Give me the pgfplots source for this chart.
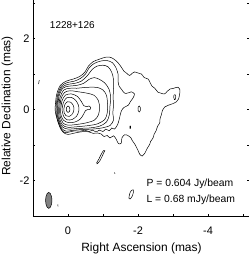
\documentclass[border=0pt]{standalone}
\usepackage{pgfplots}
\pgfplotsset{compat=1.18}
\usepackage{fontspec}
\setmainfont{Liberation Sans}
\begin{document}
\begin{tikzpicture}
\begin{axis}[name=ax, at={(0,0)}, anchor=south west, scale only axis,
  width=217bp, height=220bp,
  xmin=-5.2, xmax=1, ymin=-3, ymax=3.2, x dir=reverse,
  xtick={-4,-2,0}, ytick={-2,0,2},
  minor xtick={-5,-3,-1,1}, minor ytick={-3,-1,1,3},
  tick align=inside, major tick length=2.5bp, minor tick length=2.5bp,
  tick style={black, line width=0.5pt}, axis line style={line width=0.5pt},
  xlabel={Right Ascension (mas)}, ylabel={Relative Declination (mas)},
  ticklabel style={font=\fontsize{11}{13}\selectfont},
  xticklabel style={yshift=-7bp},
  xlabel style={yshift=-2bp},
  label style={font=\fontsize{12}{14}\selectfont},
  /pgf/number format/assume math mode=true,
  every axis plot/.append style={black, line width=0.5pt, mark=none},
]
% C1
\addplot[black, smooth] coordinates {(0.05,0.01)(0.035,0.07)(0,0.1)(-0.04,0.07)(-0.055,0.0)(-0.04,-0.06)(0,-0.08)(0.035,-0.05)(0.05,0.01)(0.035,0.07)};
% C2
\addplot[black, smooth] coordinates {(0.12,0.01)(0.09,0.14)(0.02,0.22)(-0.07,0.21)(-0.15,0.12)(-0.17,0.0)(-0.13,-0.12)(-0.04,-0.19)(0.06,-0.17)(0.11,-0.09)(0.12,0.01)(0.09,0.14)};
% C3
\addplot[black, smooth] coordinates {(0.17,0.01)(0.13,0.2)(0.04,0.33)(-0.1,0.34)(-0.22,0.26)(-0.3,0.12)(-0.31,-0.03)(-0.25,-0.18)(-0.12,-0.28)(0.02,-0.29)(0.12,-0.2)(0.17,0.01)(0.13,0.2)};
% C4 with spur
\addplot[black, smooth] coordinates {(0.21,0.01)(0.17,0.25)(0.07,0.41)(-0.1,0.44)(-0.27,0.37)(-0.38,0.23)(-0.45,0.11)(-0.53,0.08)(-0.6,0.1)(-0.65,0.06)(-0.63,0.0)(-0.56,0.0)(-0.5,-0.03)(-0.44,-0.14)(-0.35,-0.27)(-0.2,-0.35)(-0.02,-0.37)(0.13,-0.3)(0.2,-0.15)(0.21,0.01)(0.17,0.25)};
% C5
\addplot[black, smooth] coordinates {(0.24,0.01)(0.2,0.3)(0.1,0.48)(-0.06,0.53)(-0.3,0.5)(-0.55,0.46)(-0.75,0.4)(-0.87,0.25)(-0.9,0.05)(-0.87,-0.15)(-0.75,-0.3)(-0.5,-0.38)(-0.25,-0.42)(0.0,-0.44)(0.14,-0.38)(0.22,-0.2)(0.24,0.01)(0.2,0.3)};
% C6
\addplot[black, smooth] coordinates {(0.27,0.01)(0.23,0.33)(0.12,0.55)(-0.05,0.6)(-0.25,0.6)(-0.45,0.62)(-0.65,0.63)(-0.85,0.62)(-1.0,0.55)(-1.1,0.4)(-1.13,0.15)(-1.12,-0.1)(-1.05,-0.28)(-0.85,-0.4)(-0.6,-0.45)(-0.3,-0.48)(0.0,-0.5)(0.16,-0.43)(0.25,-0.22)(0.27,0.01)(0.23,0.33)};
% C7
\addplot[black, smooth] coordinates {(0.30,0.01)(0.26,0.36)(0.15,0.6)(-0.03,0.66)(-0.25,0.68)(-0.45,0.74)(-0.6,0.85)(-0.75,0.9)(-0.9,0.85)(-1.05,0.75)(-1.17,0.58)(-1.22,0.35)(-1.2,0.1)(-1.18,-0.15)(-1.1,-0.35)(-0.9,-0.47)(-0.6,-0.52)(-0.3,-0.53)(0.0,-0.55)(0.17,-0.48)(0.27,-0.25)(0.30,0.01)(0.26,0.36)};
% O3
\addplot[black, smooth] coordinates {(0.32,0.01)(0.28,0.38)(0.17,0.63)(0.0,0.71)(-0.2,0.74)(-0.38,0.8)(-0.55,0.95)(-0.68,1.12)(-0.82,1.22)(-1.0,1.25)(-1.15,1.2)(-1.25,1.05)(-1.3,0.85)(-1.3,0.6)(-1.29,0.35)(-1.3,0.1)(-1.28,-0.1)(-1.3,-0.3)(-1.2,-0.45)(-1.05,-0.5)(-0.9,-0.53)(-0.7,-0.55)(-0.5,-0.56)(-0.3,-0.57)(-0.1,-0.59)(0.05,-0.61)(0.18,-0.53)(0.28,-0.28)(0.32,0.01)(0.28,0.38)};
% O2
\addplot[black, smooth] coordinates {(0.345,0.01)(0.3,0.4)(0.19,0.66)(0.02,0.76)(-0.18,0.8)(-0.36,0.88)(-0.5,1.0)(-0.6,1.17)(-0.75,1.3)(-0.95,1.37)(-1.12,1.38)(-1.27,1.32)(-1.37,1.18)(-1.43,1.0)(-1.43,0.8)(-1.46,0.66)(-1.52,0.58)(-1.62,0.46)(-1.72,0.47)(-1.81,0.5)(-1.9,0.44)(-1.86,0.33)(-1.78,0.22)(-1.72,0.12)(-1.6,0.06)(-1.52,-0.05)(-1.47,-0.25)(-1.42,-0.42)(-1.33,-0.55)(-1.25,-0.52)(-1.18,-0.6)(-1.08,-0.55)(-1.0,-0.62)(-0.9,-0.58)(-0.8,-0.63)(-0.7,-0.58)(-0.6,-0.62)(-0.48,-0.58)(-0.35,-0.61)(-0.2,-0.6)(-0.05,-0.63)(0.08,-0.65)(0.2,-0.56)(0.3,-0.3)(0.345,0.01)(0.3,0.4)};
% O1 outermost
\addplot[black, smooth] coordinates {(0.37,0.01)(0.33,0.4)(0.22,0.68)(0.05,0.8)(-0.15,0.86)(-0.33,0.93)(-0.48,1.05)(-0.58,1.22)(-0.72,1.35)(-0.9,1.42)(-1.05,1.47)(-1.18,1.48)(-1.3,1.43)(-1.42,1.33)(-1.52,1.2)(-1.6,1.08)(-1.68,1.02)(-1.76,0.96)(-1.83,1.02)(-1.9,1.06)(-2.0,1.03)(-2.1,1.0)(-2.18,0.9)(-2.29,0.86)(-2.35,0.75)(-2.4,0.66)(-2.48,0.6)(-2.57,0.49)(-2.66,0.46)(-2.76,0.44)(-2.84,0.52)(-2.92,0.58)(-3.02,0.6)(-3.14,0.63)(-3.2,0.55)(-3.19,0.44)(-3.16,0.3)(-3.1,0.22)(-2.98,0.16)(-2.86,0.12)(-2.76,0.07)(-2.7,-0.02)(-2.67,-0.14)(-2.63,-0.26)(-2.62,-0.38)(-2.56,-0.47)(-2.52,-0.59)(-2.46,-0.7)(-2.43,-0.8)(-2.36,-0.9)(-2.33,-0.99)(-2.26,-1.1)(-2.2,-1.22)(-2.12,-1.31)(-2.05,-1.26)(-2.0,-1.15)(-1.95,-1.05)(-1.9,-0.96)(-1.84,-0.88)(-1.8,-0.8)(-1.71,-0.73)(-1.62,-0.71)(-1.54,-0.8)(-1.52,-0.95)(-1.44,-0.96)(-1.38,-0.84)(-1.3,-0.74)(-1.2,-0.8)(-1.12,-0.73)(-1.03,-0.76)(-0.95,-0.69)(-0.85,-0.66)(-0.72,-0.67)(-0.6,-0.63)(-0.45,-0.62)(-0.3,-0.64)(-0.15,-0.67)(0.0,-0.7)(0.14,-0.64)(0.25,-0.43)(0.33,-0.2)(0.37,0.01)(0.33,0.4)};
% islands
\addplot[black, smooth] coordinates {(-2.0,0.02)(-2.01,0.08)(-2.04,0.1)(-2.07,0.05)(-2.065,-0.03)(-2.035,-0.07)(-2.005,-0.03)(-2.0,0.02)(-2.01,0.08)};
\addplot[black, smooth] coordinates {(-3.02,0.35)(-3.03,0.41)(-3.06,0.42)(-3.08,0.36)(-3.07,0.29)(-3.04,0.28)(-3.02,0.35)(-3.03,0.41)};
\addplot[black, smooth] coordinates {(-1.77,-0.46)(-1.79,-0.47)(-1.79,-0.53)(-1.77,-0.53)(-1.77,-0.46)};
\addplot[black, smooth] coordinates {(-0.83,-1.53)(-0.9,-1.46)(-0.97,-1.33)(-1.03,-1.2)(-1.05,-1.16)(-1.01,-1.16)(-0.95,-1.26)(-0.88,-1.4)(-0.82,-1.5)(-0.83,-1.53)(-0.9,-1.46)};
\addplot[black, no marks] coordinates {(-1.33,-1.77)(-1.34,-1.81)};
\addplot[black, smooth] coordinates {(-1.74,-2.5)(-1.76,-2.38)(-1.81,-2.28)(-1.86,-2.26)(-1.87,-2.33)(-1.83,-2.45)(-1.77,-2.52)(-1.74,-2.5)(-1.76,-2.38)};
\addplot[black, no marks] coordinates {(0.29,-2.67)(0.285,-2.73)};
\addplot[black, no marks] coordinates {(0.84,0.72)(0.83,0.79)(0.82,0.83)};
% beam
\addplot[black, smooth, fill=gray] coordinates {(0.64,-2.56)(0.628,-2.448)(0.595,-2.365)(0.55,-2.335)(0.505,-2.365)(0.472,-2.448)(0.46,-2.56)(0.472,-2.672)(0.505,-2.755)(0.55,-2.785)(0.595,-2.755)(0.628,-2.672)(0.64,-2.56)};
\node[anchor=west, inner sep=0pt, font=\fontsize{10}{12}\selectfont] at (axis cs:0.52,2.37) {1228+126};
\node[anchor=west, inner sep=0pt, font=\fontsize{10.4}{12}\selectfont] at (axis cs:-2.24,-2.09) {P = 0.604 Jy/beam};
\node[anchor=west, inner sep=0pt, font=\fontsize{10.4}{12}\selectfont] at (axis cs:-2.24,-2.54) {L = 0.68 mJy/beam};
\end{axis}
\pgfresetboundingbox
\path ([xshift=-33bp,yshift=-38bp]ax.south west) rectangle ++(249bp,254bp);
\end{tikzpicture}
\end{document}
